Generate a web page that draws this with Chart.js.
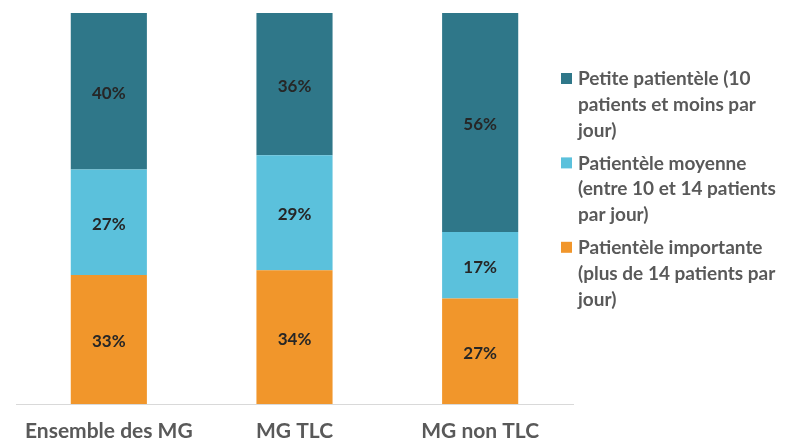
<!DOCTYPE html>
<html lang="fr">
<head>
  <meta charset="UTF-8">
  <title>Patientèle des MG</title>
  <script src="https://cdn.jsdelivr.net/npm/chart.js"></script>
  <style>
    html, body {
      margin: 0;
      padding: 0;
      background: #ffffff;
    }
    #wrap {
      width: 800px;
      height: 443px;
      position: relative;
    }
  </style>
</head>
<body>
  <div id="wrap">
    <canvas id="chart"></canvas>
  </div>

  <script>
    // Data
    const categories = ['Ensemble des MG', 'MG TLC', 'MG non TLC'];

    const petite = [40, 36.4, 56];
    const moyenne = [27, 29.4, 17];
    const importante = [33, 34.2, 27];

    const legendLines = {
      petite: ['Petite patientèle (10', 'patients et moins par', 'jour)'],
      moyenne: ['Patientèle moyenne', '(entre 10 et 14 patients', 'par jour)'],
      importante: ['Patientèle importante', '(plus de 14 patients par', 'jour)']
    };

    const FONT = 'Lato, "Open Sans", sans-serif';
    const GREY = '#595959';

    // percent labels in the middle of each segment
    const segmentLabels = {
      id: 'segmentLabels',
      afterDatasetsDraw(chart) {
        const ctx = chart.ctx;
        ctx.save();
        ctx.font = 'bold 17px ' + FONT;
        ctx.fillStyle = '#262626';
        ctx.textAlign = 'center';
        ctx.textBaseline = 'middle';
        chart.data.datasets.forEach((ds, i) => {
          chart.getDatasetMeta(i).data.forEach((bar, j) => {
            const p = bar.getProps(['x', 'y', 'base'], true);
            ctx.fillText(Math.round(ds.data[j]) + '%', p.x, (p.y + p.base) / 2 + 2);
          });
        });
        ctx.restore();
      }
    };

    // legend on the right, wrapped text like the original
    const sideLegend = {
      id: 'sideLegend',
      afterDraw(chart) {
        const ctx = chart.ctx;
        const items = chart.data.datasets.slice().reverse();
        const lineH = 25.8;
        let y = 79;
        ctx.save();
        ctx.font = 'bold 19px ' + FONT;
        ctx.textBaseline = 'middle';
        items.forEach(ds => {
          ctx.fillStyle = ds.backgroundColor;
          ctx.fillRect(561, y - 6, 11, 11);
          ctx.fillStyle = GREY;
          ds.lines.forEach((t, k) => {
            ctx.fillText(t, 578, y + k * lineH);
          });
          y += ds.lines.length * lineH + 7;
        });
        ctx.restore();
      }
    };

    new Chart(document.getElementById('chart'), {
      type: 'bar',
      data: {
        labels: categories,
        datasets: [
          {
            label: 'Patientèle importante',
            lines: legendLines.importante,
            data: importante,
            backgroundColor: '#F1962B'
          },
          {
            label: 'Patientèle moyenne',
            lines: legendLines.moyenne,
            data: moyenne,
            backgroundColor: '#5BC1DC'
          },
          {
            label: 'Petite patientèle',
            lines: legendLines.petite,
            data: petite,
            backgroundColor: '#2F7789'
          }
        ]
      },
      options: {
        responsive: true,
        maintainAspectRatio: false,
        animation: false,
        categoryPercentage: 1,
        barPercentage: 0.41,
        layout: {
          padding: { top: 13, left: 16, right: 227, bottom: 0 }
        },
        scales: {
          x: {
            stacked: true,
            afterFit(scale) { scale.height = 39; },
            grid: { display: false, drawTicks: false },
            border: { display: true, color: '#D9D9D9', width: 1 },
            ticks: {
              color: GREY,
              padding: 15,
              font: { family: FONT, size: 21, weight: 'bold' }
            }
          },
          y: {
            stacked: true,
            display: false,
            min: 0,
            max: 100
          }
        },
        plugins: {
          legend: { display: false },
          tooltip: { enabled: false }
        }
      },
      plugins: [segmentLabels, sideLegend]
    });
  </script>
</body>
</html>
